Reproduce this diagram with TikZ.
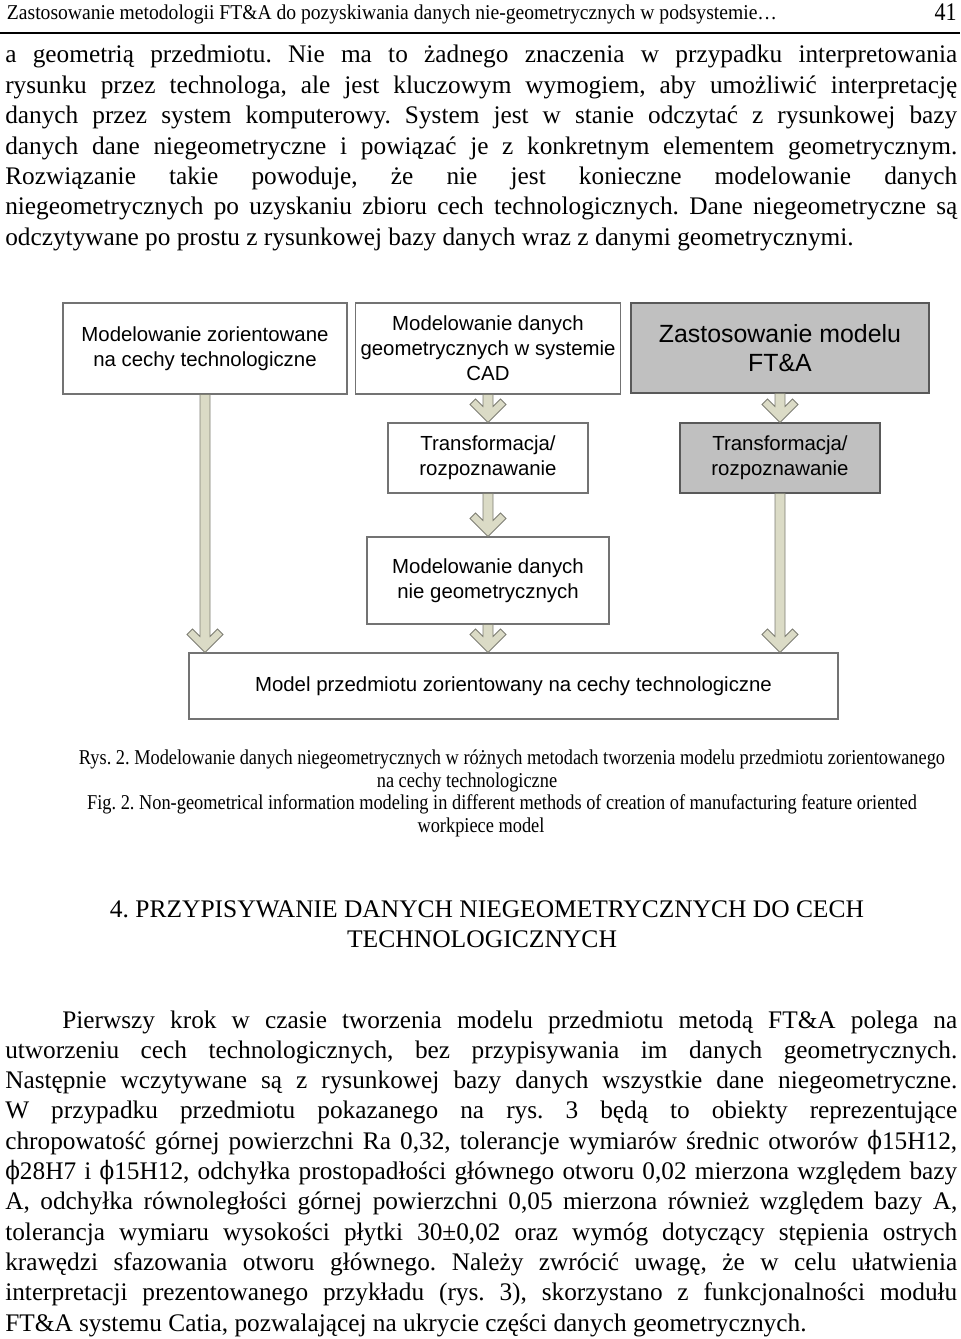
\documentclass[tikz,border=0pt]{standalone}
\usepackage{fontspec}
\setmainfont{Liberation Serif}
\setsansfont{Liberation Sans}
\newfontfamily\phifont{DejaVu Serif}
\usetikzlibrary{calc}
\frenchspacing

\newlength\pxu
\setlength\pxu{0.025cm}
\newcommand\fitto[2]{\resizebox{#1\pxu}{\height}{#2}}
\newcommand\capfit[1]{\scalebox{0.87}[1]{#1}}
\newcommand\diam{{\phifont\scalebox{0.85}[1]{ϕ}}}

\definecolor{arrowfill}{RGB}{219,219,198}
\definecolor{arrowline}{RGB}{125,125,115}
\definecolor{boxline}{RGB}{115,115,115}
\definecolor{boxgray}{RGB}{192,192,192}

\tikzset{
  box/.style={draw=boxline, line width=0.8pt, fill=white, align=center, inner sep=0pt,
    font=\sffamily\fontsize{14.5}{17.8}\selectfont},
  graybox/.style={box, fill=boxgray, draw=black!65},
  arrowbody/.style={draw=arrowline, fill=arrowfill, line width=0.6pt, line join=miter},
  bodyline/.style={anchor=base west, inner sep=0pt, font=\fontsize{18}{21.6}\selectfont},
  capline/.style={anchor=base, inner sep=0pt, font=\fontsize{15}{18}\selectfont},
}

% chevron arrow: shaft from #1 down to tip #2
\newcommand\chevron[2]{%
  \draw[arrowbody] ($(#1)+(-5,0)$) -- ($(#2)+(-5,-16)$) -- ($(#2)+(-12.5,-23.5)$)
    -- ($(#2)+(-18,-18)$) -- (#2) -- ($(#2)+(18,-18)$) -- ($(#2)+(12.5,-23.5)$)
    -- ($(#2)+(5,-16)$) -- ($(#1)+(5,0)$) -- cycle;}

\begin{document}
\begin{tikzpicture}[x=0.025cm, y=-0.025cm]
	\useasboundingbox (0,0) rectangle (960,1339);

	% Kopfzeile
	\node[capline] (head) at (392,20) {\fitto{770}{Zastosowanie metodologii FT\&A do pozyskiwania danych nie-geometrycznych w podsystemie…}};
	\node[anchor=base east, inner sep=0pt, font=\fontsize{18}{21.6}\selectfont] (page) at (957,21) {\fitto{22}{41}};
	\draw[line width=1.6pt] (0,33) -- (960,33);

	% Absatz oben
	\foreach \ln [count=\i from 0] in {
		{a geometrią przedmiotu. Nie ma to żadnego znaczenia w przypadku interpretowania},
		{rysunku przez technologa, ale jest kluczowym wymogiem, aby umożliwić interpretację},
		{danych przez system komputerowy. System jest w stanie odczytać z rysunkowej bazy},
		{danych dane niegeometryczne i powiązać je z konkretnym elementem geometrycznym.},
		{Rozwiązanie takie powoduje, że nie jest konieczne modelowanie danych},
		{niegeometrycznych po uzyskaniu zbioru cech technologicznych. Dane niegeometryczne są}}
		\node[bodyline] (up\i) at (5,63+30.4*\i) {\makebox[952\pxu][s]{\ln}};
	\node[bodyline] (up6) at (5,245.4) {odczytywane po prostu z rysunkowej bazy danych wraz z danymi geometrycznymi.};

	% Schemat
	\node[box, minimum width=284\pxu, minimum height=91\pxu] (A) at (205,348.5) {Modelowanie zorientowane\\na cechy technologiczne};
	\node[box, minimum width=265\pxu, minimum height=91\pxu] (B) at (488,348.5) {Modelowanie danych\\geometrycznych w systemie\\CAD};
	\node[graybox, minimum width=298\pxu, minimum height=90\pxu, font=\sffamily\fontsize{17.7}{20.6}\selectfont] (C) at (780,348) {Zastosowanie modelu\\FT\&A};
	\node[box, minimum width=200\pxu, minimum height=70\pxu] (D) at (488,458) {Transformacja/\\rozpoznawanie};
	\node[graybox, minimum width=200\pxu, minimum height=70\pxu] (E) at (780,458) {Transformacja/\\rozpoznawanie};
	\node[box, minimum width=242\pxu, minimum height=87\pxu] (F) at (488,580.5) {Modelowanie danych\\nie geometrycznych};
	\node[box, minimum width=649\pxu, minimum height=66\pxu] (G) at (513.5,686) {Model przedmiotu zorientowany na cechy technologiczne};

	\coordinate (ga) at (A.south |- G.north);
	\coordinate (gf) at (F.south |- G.north);
	\coordinate (ge) at (E.south |- G.north);
	\chevron{A.south}{ga}
	\chevron{B.south}{D.north}
	\chevron{D.south}{F.north}
	\chevron{F.south}{gf}
	\chevron{C.south}{E.north}
	\chevron{E.south}{ge}

	% Podpis
	\node[capline] (cap1) at (512,764) {\capfit{Rys. 2. Modelowanie danych niegeometrycznych w różnych metodach tworzenia modelu przedmiotu zorientowanego}};
	\node[capline] (cap2) at (467,787) {\capfit{na cechy technologiczne}};
	\node[capline] (cap3) at (502,809) {\capfit{Fig. 2. Non-geometrical information modeling in different methods of creation of manufacturing feature oriented}};
	\node[capline] (cap4) at (481,832) {\capfit{workpiece model}};

	% Rozdzial 4
	\node[capline, font=\fontsize{18}{21.6}\selectfont] (sec1) at (487,917) {\fitto{754}{4. PRZYPISYWANIE DANYCH NIEGEOMETRYCZNYCH DO CECH}};
	\node[capline, font=\fontsize{18}{21.6}\selectfont] (sec2) at (482,947) {\fitto{270}{TECHNOLOGICZNYCH}};

	% Absatz unten
	\node[bodyline] (lo0) at (62,1028) {\makebox[895\pxu][s]{Pierwszy krok w czasie tworzenia modelu przedmiotu metodą FT\&A polega na}};
	\foreach \ln [count=\i from 1] in {
		{utworzeniu cech technologicznych, bez przypisywania im danych geometrycznych.},
		{Następnie wczytywane są z rysunkowej bazy danych wszystkie dane niegeometryczne.},
		{W przypadku przedmiotu pokazanego na rys. 3 będą to obiekty reprezentujące},
		{chropowatość górnej powierzchni Ra 0,32, tolerancje wymiarów średnic otworów \diam15H12,},
		{\diam28H7 i \diam15H12, odchyłka prostopadłości głównego otworu 0,02 mierzona względem bazy},
		{A, odchyłka równoległości górnej powierzchni 0,05 mierzona również względem bazy A,},
		{tolerancja wymiaru wysokości płytki 30±0,02 oraz wymóg dotyczący stępienia ostrych},
		{krawędzi sfazowania otworu głównego. Należy zwrócić uwagę, że w celu ułatwienia},
		{interpretacji prezentowanego przykładu (rys. 3), skorzystano z funkcjonalności modułu}}
		\node[bodyline] (lo\i) at (5,1028+30.3*\i) {\makebox[952\pxu][s]{\ln}};
	\node[bodyline] (lo10) at (5,1331) {FT\&A systemu Catia, pozwalającej na ukrycie części danych geometrycznych.};
\end{tikzpicture}
\end{document}
